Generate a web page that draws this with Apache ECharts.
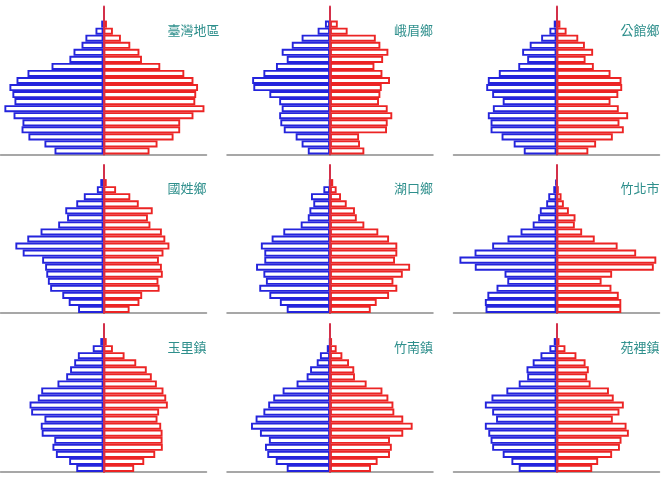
<!DOCTYPE html>
<html>
<head>
<meta charset="utf-8">
<script src="https://cdn.jsdelivr.net/npm/echarts@6/dist/echarts.min.js"></script>
<style>
  html, body { margin: 0; padding: 0; background: #fff; }
  #main { width: 663px; height: 478px; }
</style>
</head>
<body>
<div id="main"></div>
<script>
// age groups, bottom (youngest) to top
const ageGroups = ['0-4', '5-9', '10-14', '15-19', '20-24', '25-29', '30-34', '35-39', '40-44', '45-49',
    '50-54', '55-59', '60-64', '65-69', '70-74', '75-79', '80-84', '85-89', '90-94', '95-99', '100+'];

const regionNames = ['臺灣地區', '峨眉鄉', '公館鄉', '國姓鄉', '湖口鄉', '竹北市', '玉里鎮', '竹南鎮', '苑裡鎮'];

// population share (same scale for all panels), male / female
const maleTaiwan = [21.4, 25.8, 32.8, 35.8, 35.4, 39.3, 43.3, 38.9, 39.8, 41.1, 38.0, 33.2, 22.7, 14.9, 13.1, 9.6, 7.9, 3.5, 1.0];
const femaleTaiwan = [20.1, 23.6, 30.6, 33.5, 33.5, 39.3, 44.1, 40.1, 40.5, 41.3, 39.3, 35.3, 24.8, 16.8, 15.7, 11.7, 7.6, 4.1, 1.5];

const maleEmei = [9.7, 12.4, 15.0, 20.2, 21.7, 22.2, 21.1, 22.2, 26.5, 33.5, 34.0, 29.1, 23.6, 18.9, 21.1, 16.7, 12.4, 5.4, 2.2];
const femaleEmei = [15.0, 13.1, 12.7, 24.9, 25.2, 27.2, 25.2, 21.4, 22.0, 22.6, 26.2, 22.9, 19.4, 23.2, 25.5, 22.0, 20.0, 7.7, 3.4];

const maleGongguan = [14.3, 18.7, 24.0, 28.8, 28.8, 30.0, 27.8, 23.5, 28.1, 30.7, 30.0, 25.2, 16.7, 12.8, 15.0, 11.7, 6.7, 3.1, 1.2];
const femaleGongguan = [13.9, 17.3, 24.6, 29.4, 27.5, 31.3, 27.2, 23.6, 27.0, 28.7, 28.4, 23.6, 16.3, 12.7, 16.0, 12.4, 9.5, 4.4, 1.7];

const maleGuoxing = [11.1, 15.2, 18.0, 23.3, 24.3, 25.0, 25.5, 26.8, 35.3, 38.5, 33.3, 27.5, 19.8, 15.9, 16.7, 11.9, 8.6, 2.9, 1.4];
const femaleGuoxing = [11.4, 15.7, 16.9, 24.5, 24.0, 25.9, 25.5, 24.2, 26.2, 28.8, 27.0, 25.5, 20.5, 19.4, 21.5, 15.4, 11.7, 5.5, 1.4];

const maleHukou = [18.9, 21.9, 26.5, 30.9, 28.0, 29.1, 32.3, 28.7, 28.7, 30.2, 25.5, 20.4, 12.8, 9.7, 9.0, 7.3, 8.3, 2.9, 0.2];
const femaleHukou = [17.8, 20.4, 25.8, 29.4, 27.7, 31.8, 35.0, 28.4, 29.4, 29.4, 25.8, 21.1, 15.0, 11.7, 10.9, 7.3, 4.8, 2.9, 1.4];

const maleZhubei = [31.0, 31.3, 30.2, 26.2, 21.5, 22.7, 35.7, 42.4, 35.8, 28.1, 21.4, 15.7, 10.4, 8.0, 7.3, 4.5, 3.6, 1.4, 0.4];
const femaleZhubei = [28.3, 28.3, 27.2, 24.0, 19.7, 24.3, 42.5, 43.6, 34.8, 26.7, 16.7, 11.2, 8.0, 8.3, 5.4, 3.2, 2.2, 1.0, 0.3];

const maleYuli = [11.9, 15.0, 20.8, 22.3, 21.5, 27.0, 27.4, 25.8, 31.6, 32.3, 28.7, 27.2, 20.1, 16.3, 14.6, 12.8, 11.2, 4.7, 1.4];
const femaleYuli = [13.4, 17.8, 22.6, 25.9, 25.8, 25.8, 25.2, 23.6, 24.3, 28.1, 27.4, 26.2, 23.3, 21.1, 18.9, 14.3, 9.2, 4.1, 1.4];

const maleZhunan = [18.9, 23.7, 27.4, 28.4, 26.7, 30.6, 34.5, 32.5, 29.1, 27.0, 24.8, 20.7, 14.6, 10.2, 8.7, 5.8, 4.4, 1.4, 0.2];
const femaleZhunan = [17.9, 20.8, 26.2, 27.0, 26.2, 32.0, 36.1, 32.0, 28.1, 27.7, 25.5, 22.9, 16.0, 10.9, 10.6, 8.3, 5.4, 2.9, 0.9];

const maleYuanli = [16.5, 19.7, 23.5, 28.1, 28.8, 29.8, 31.3, 26.4, 28.1, 31.3, 28.4, 21.9, 16.5, 12.8, 13.1, 10.4, 7.0, 3.1, 1.2];
const femaleYuanli = [15.6, 18.2, 24.3, 27.7, 28.4, 31.6, 30.6, 24.6, 27.5, 29.4, 25.0, 22.9, 14.9, 13.4, 14.1, 12.7, 8.7, 3.9, 1.3];

const maleData = [maleTaiwan, maleEmei, maleGongguan, maleGuoxing, maleHukou, maleZhubei, maleYuli, maleZhunan, maleYuanli];
const femaleData = [femaleTaiwan, femaleEmei, femaleGongguan, femaleGuoxing, femaleHukou, femaleZhubei, femaleYuli, femaleZhunan, femaleYuanli];

const chart = echarts.init(document.getElementById('main'));

const colLeft = [0.5, 227, 453.5];
const rowBottom = [154.5, 313, 472];
const gridW = 206;
const gridH = 148;
const axisMax = 45;

const grids = [], xAxes = [], yAxes = [], series = [], titles = [];

regionNames.forEach(function (name, i) {
    const col = i % 3;
    const row = Math.floor(i / 3);
    const left = colLeft[col];
    const top = rowBottom[row] - gridH;

    grids.push({ left: left, top: top, width: gridW, height: gridH, containLabel: false });
    xAxes.push({
        gridIndex: i,
        type: 'value',
        min: -axisMax,
        max: axisMax,
        axisLine: { show: true, lineStyle: { color: '#8a8a8a', width: 1.5 } },
        axisTick: { show: false },
        axisLabel: { show: false },
        splitLine: { show: false }
    });
    yAxes.push({
        gridIndex: i,
        type: 'category',
        data: ageGroups,
        z: 5,
        axisLine: { show: true, onZero: true, lineStyle: { color: '#d3304a', width: 2 } },
        axisTick: { show: false },
        axisLabel: { show: false },
        splitLine: { show: false }
    });
    series.push({
        name: name + ' 男',
        type: 'bar',
        xAxisIndex: i,
        yAxisIndex: i,
        stack: 'p' + i,
        barCategoryGap: 0,
        itemStyle: { color: '#ffffff', borderColor: '#2424dc', borderWidth: 1.9 },
        data: maleData[i].map(function (v) { return -v; })
    });
    series.push({
        name: name + ' 女',
        type: 'bar',
        xAxisIndex: i,
        yAxisIndex: i,
        stack: 'p' + i,
        barCategoryGap: 0,
        itemStyle: { color: '#ffffff', borderColor: '#ec2424', borderWidth: 1.9 },
        data: femaleData[i]
    });
    titles.push({
        text: name,
        left: left + 162,
        top: rowBottom[row] - 136,
        textStyle: {
            color: '#2e8f8c',
            fontSize: 13,
            fontWeight: 'normal',
            fontFamily: 'Noto Sans CJK TC'
        }
    });
});

chart.setOption({
    animation: false,
    title: titles,
    grid: grids,
    xAxis: xAxes,
    yAxis: yAxes,
    series: series
});
</script>
</body>
</html>
